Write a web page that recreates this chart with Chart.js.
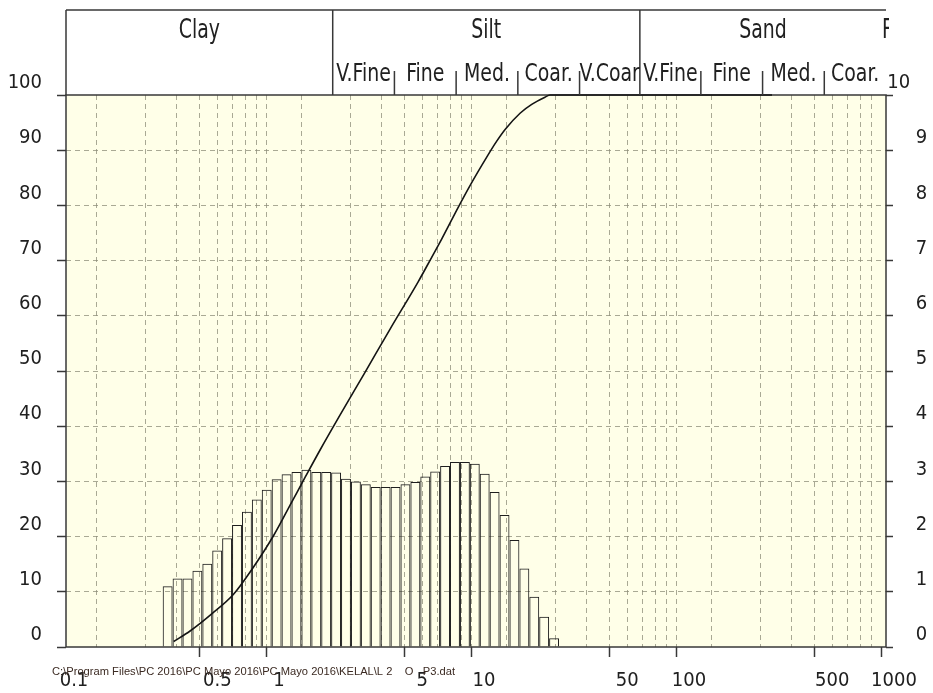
<!DOCTYPE html>
<html>
<head>
<meta charset="utf-8">
<script src="https://cdn.jsdelivr.net/npm/chart.js@4.4.1/dist/chart.umd.min.js"></script>
<style>
  html, body { margin: 0; padding: 0; background: #ffffff; overflow: hidden; }
  canvas { display: block; }
</style>
</head>
<body>
<canvas id="psd" width="933" height="693"></canvas>
<script>
// Size classes for the header band (diameters in µm)
const classNames = ['Clay', 'Silt', 'Sand'];
const classEdges = [0.1, 2, 63, 1000];
const siltNames = ['V.Fine', 'Fine', 'Med.', 'Coar.', 'V.Coar'];
const siltEdges = [2, 4, 8, 16, 32, 63];
const sandNames = ['V.Fine', 'Fine', 'Med.', 'Coar.'];
const sandEdges = [63, 125, 250, 500, 1000];

// Channel mid-point diameters (µm) and volume % in each channel
const binDiameters = [
  0.3132, 0.3501, 0.3913, 0.4374, 0.4889, 0.5464, 0.6107, 0.6826, 0.7630, 0.8528,
  0.9532, 1.0654, 1.1908, 1.3310, 1.4877, 1.6628, 1.8585, 2.0773, 2.3218, 2.5952,
  2.9007, 3.2421, 3.6238, 4.0504, 4.5272, 5.0601, 5.6558, 6.3216, 7.0657, 7.8975,
  8.8272, 9.8663, 11.028, 12.326, 13.777, 15.399, 17.211, 19.237, 21.502, 24.033
];
const binVolume = [
  1.10, 1.24, 1.24, 1.38, 1.51, 1.75, 1.97, 2.21, 2.45, 2.67,
  2.85, 3.04, 3.13, 3.17, 3.21, 3.17, 3.17, 3.16, 3.05, 3.00,
  2.95, 2.90, 2.90, 2.90, 2.95, 2.99, 3.09, 3.18, 3.28, 3.35,
  3.35, 3.32, 3.14, 2.81, 2.39, 1.94, 1.42, 0.91, 0.55, 0.16
];

// Cumulative volume % passing, against diameter (µm)
const cumDiameters = [0.335, 0.403, 0.514, 0.655, 0.805, 1.03, 1.26, 1.47, 1.73, 2.17, 2.87, 3.81,
  5.23, 6.08, 6.80, 8.20, 9.35, 11.3, 12.6, 13.9, 16.4, 18.7, 21.7, 23.0, 278];
const cumPercent = [1.0, 2.9, 6.0, 9.5, 14.0, 20.2, 26.2, 30.8, 35.6, 42.0, 49.7, 57.6,
  66.2, 70.6, 73.9, 79.7, 83.6, 88.8, 91.6, 93.8, 96.7, 98.3, 99.6, 100, 100];

// Axis labels
const xTickLabels = [0.1, 0.5, 1, 5, 10, 50, 100, 500, 1000];
const leftTickStep = 10;
const rightTickStep = 1;

const filePath = 'C:\\Program Files\\PC 2016\\PC Mayo 2016\\PC Mayo 2016\\KELAL\\L 2    O   P3.dat';

// Styling
const FONT = "'Liberation Sans Narrow', 'Arial Narrow', 'DejaVu Sans Condensed', 'Liberation Sans', sans-serif";
const INK = '#202020';
const FRAME = '#383838';
const PLOT_BG = '#ffffe8';
const GRID = 'rgba(140,140,120,0.75)';

// Log grid positions: 1..9 in every decade from 0.1 to 1000
const gridValues = [];
for (let e = -1; e <= 2; e++) {
  for (let m = 1; m <= 9; m++) gridValues.push(+(m * Math.pow(10, e)).toPrecision(6));
}
gridValues.push(1000);

const sameValue = (a, b) => Math.abs(a - b) / b < 1e-6;
const isLabelled = v => xTickLabels.some(t => sameValue(v, t));

function stretchedText(ctx, text, x, y, size, sy, align) {
  ctx.save();
  ctx.font = size + 'px ' + FONT;
  ctx.textAlign = align || 'center';
  ctx.textBaseline = 'middle';
  ctx.fillStyle = INK;
  ctx.translate(x, y);
  ctx.scale(1, sy);
  ctx.fillText(text, 0, 0);
  ctx.restore();
}

const decorations = {
  id: 'decorations',
  beforeDraw(chart) {
    const { ctx, chartArea: a } = chart;
    ctx.save();
    ctx.fillStyle = '#ffffff';
    ctx.fillRect(0, 0, chart.width, chart.height);
    ctx.fillStyle = PLOT_BG;
    ctx.fillRect(a.left, a.top, a.right - a.left, a.bottom - a.top);
    ctx.restore();
  },
  beforeDatasetsDraw(chart) {
    const { ctx, chartArea: a } = chart;
    ctx.save();
    ctx.strokeStyle = FRAME;
    ctx.lineWidth = 1.5;
    ctx.strokeRect(a.left, a.top, a.right - a.left, a.bottom - a.top);
    ctx.restore();
  },
  afterDraw(chart) {
    const { ctx, chartArea: a } = chart;
    const px = v => chart.scales.x.getPixelForValue(v);
    const top = 10, subTop = 71, bottom = a.top;

    ctx.save();
    ctx.strokeStyle = FRAME;
    ctx.lineWidth = 1.5;
    ctx.beginPath();
    ctx.moveTo(a.left, top); ctx.lineTo(a.right, top);
    ctx.moveTo(a.left, top); ctx.lineTo(a.left, bottom);
    classEdges.slice(1, -1).forEach(e => { ctx.moveTo(px(e), top); ctx.lineTo(px(e), bottom); });
    [siltEdges, sandEdges].forEach(edges => {
      edges.slice(1, -1).forEach(e => { ctx.moveTo(px(e), subTop); ctx.lineTo(px(e), bottom); });
    });
    ctx.stroke();
    ctx.restore();

    classNames.forEach((n, i) => {
      stretchedText(ctx, n, (px(classEdges[i]) + px(classEdges[i + 1])) / 2, 31, 21, 1.25);
    });
    siltNames.forEach((n, i) => {
      stretchedText(ctx, n, (px(siltEdges[i]) + px(siltEdges[i + 1])) / 2, 75, 21, 1.15);
    });
    sandNames.forEach((n, i) => {
      stretchedText(ctx, n, (px(sandEdges[i]) + px(sandEdges[i + 1])) / 2, 75, 21, 1.15);
    });

    // next class name, cut off at the right edge
    ctx.save();
    ctx.beginPath();
    ctx.rect(0, 0, a.right + 3, a.top);
    ctx.clip();
    stretchedText(ctx, 'F', a.right - 4, 31, 21, 1.25, 'left');
    ctx.restore();

    // data file path
    ctx.save();
    ctx.font = '10px "Liberation Sans", sans-serif';
    const w = ctx.measureText(filePath).width;
    ctx.translate(52, 672);
    ctx.scale(403 / w, 1);
    ctx.textAlign = 'left';
    ctx.textBaseline = 'middle';
    ctx.fillStyle = '#3b2a22';
    ctx.fillText(filePath, 0, 0);
    ctx.restore();
  }
};

const tickFont = { family: FONT, size: 20 };

new Chart(document.getElementById('psd'), {
  data: {
    datasets: [
      {
        type: 'line',
        data: cumDiameters.map((d, i) => ({ x: d, y: cumPercent[i] })),
        xAxisID: 'x',
        yAxisID: 'y',
        borderColor: '#141414',
        borderWidth: 1.6,
        pointRadius: 0,
        cubicInterpolationMode: 'monotone',
        fill: false,
        clip: 4,
        order: 0
      },
      {
        type: 'bar',
        data: binDiameters.map((d, i) => ({ x: d, y: binVolume[i] })),
        xAxisID: 'x',
        yAxisID: 'yr',
        backgroundColor: 'rgba(0,0,0,0)',
        borderColor: '#1e1e1e',
        borderWidth: 1,
        borderSkipped: 'start',
        barThickness: 9.91,
        inflateAmount: 0,
        order: 1
      }
    ]
  },
  options: {
    responsive: false,
    animation: false,
    events: [],
    layout: { padding: { top: 95, left: 0, right: 0, bottom: 0 } },
    plugins: { legend: { display: false }, tooltip: { enabled: false } },
    scales: {
      x: {
        type: 'logarithmic',
        position: 'bottom',
        min: 0.1,
        max: 1000,
        afterBuildTicks: s => { s.ticks = gridValues.map(v => ({ value: v })); },
        afterFit: s => { s.height = 46; },
        border: { display: false, dash: [5, 4] },
        grid: {
          color: c => (c.tick && (sameValue(c.tick.value, 0.1) || sameValue(c.tick.value, 1000))) ? 'rgba(0,0,0,0)' : GRID,
          lineWidth: 1,
          tickLength: 10,
          tickWidth: 1.5,
          tickColor: c => (c.tick && isLabelled(c.tick.value)) ? FRAME : 'rgba(0,0,0,0)'
        },
        ticks: {
          autoSkip: false,
          maxRotation: 0,
          minRotation: 0,
          padding: 12,
          labelOffset: 8,
          color: INK,
          font: tickFont,
          callback: v => isLabelled(v) ? String(xTickLabels.find(t => sameValue(v, t))) : ''
        }
      },
      y: {
        type: 'linear',
        position: 'left',
        min: 0,
        max: 100,
        afterFit: s => { s.width = 66; },
        border: { display: false, dash: [5, 4] },
        grid: {
          color: c => (c.tick && (c.tick.value === 0 || c.tick.value === 100)) ? 'rgba(0,0,0,0)' : GRID,
          tickLength: 9,
          tickWidth: 1.5,
          tickColor: FRAME
        },
        ticks: {
          stepSize: leftTickStep,
          padding: 15,
          labelOffset: -12,
          color: INK,
          font: tickFont
        }
      },
      yr: {
        type: 'linear',
        position: 'right',
        min: 0,
        max: 10,
        afterFit: s => { s.width = 47; },
        border: { display: false },
        grid: {
          drawOnChartArea: false,
          tickLength: 7,
          tickWidth: 1.5,
          tickColor: FRAME
        },
        ticks: {
          stepSize: rightTickStep,
          crossAlign: 'far',
          labelOffset: -12,
          color: INK,
          font: tickFont,
          callback: v => v === 10 ? '10    ' : v + ' '
        }
      }
    }
  },
  plugins: [decorations]
});
</script>
</body>
</html>
